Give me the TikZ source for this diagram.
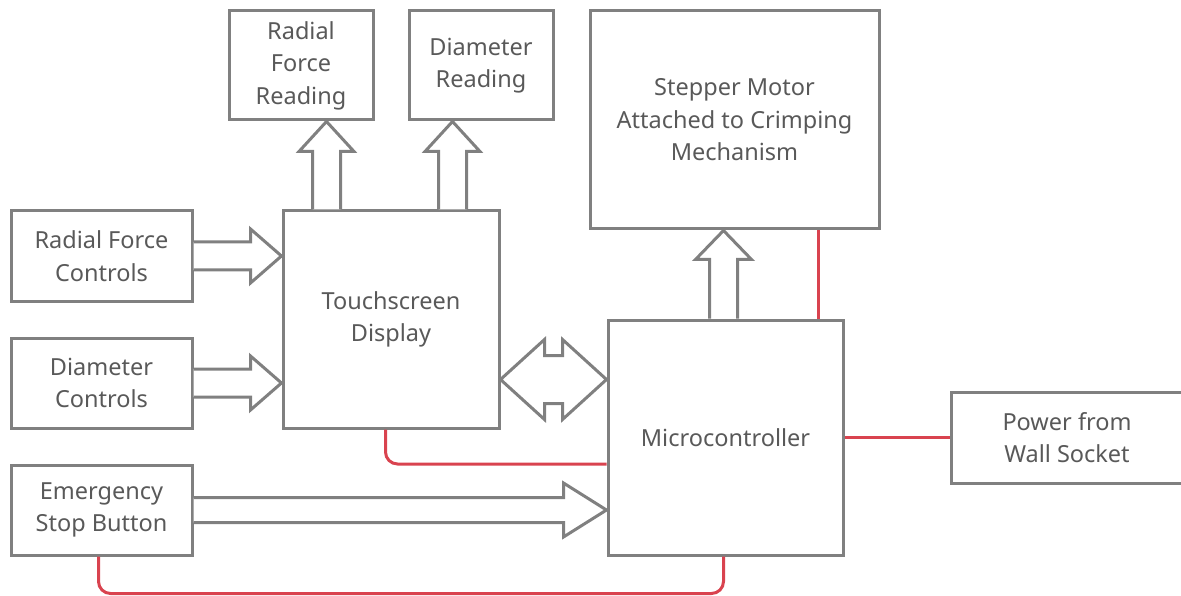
\documentclass[tikz,border=0pt]{standalone}
\usepackage{fontspec}
\setmainfont{Noto Sans}
\usetikzlibrary{calc}
\definecolor{edge}{HTML}{808080}
\definecolor{ink}{HTML}{595959}
\definecolor{wire}{HTML}{D9434F}
\tikzset{
  blk/.style={draw=edge, line width=3pt, fill=white, align=center, text=ink,
    font=\fontsize{23.5}{32.5}\selectfont, inner sep=0pt},
  fat/.style={draw=edge, line width=3pt, fill=white, line join=miter},
  power/.style={draw=wire, line width=3pt, rounded corners=12pt}
}
% block arrow from #1 to #2: half shaft #3, half head #4, head length #5
\newcommand{\fatarrow}[5]{%
  \draw[fat] let \p1=($(#2)-(#1)$), \n1={atan2(\y1,\x1)}, \n2={veclen(\x1,\y1)} in
    [shift={(#1)}, rotate=\n1]
    (0,-#3) -- ({\n2-#5},-#3) -- ({\n2-#5},-#4) -- (\n2,0) -- ({\n2-#5},#4)
    -- ({\n2-#5},#3) -- (0,#3);}
% double-headed block arrow between #1 and #2
\newcommand{\fatboth}[5]{%
  \draw[fat] let \p1=($(#2)-(#1)$), \n1={atan2(\y1,\x1)}, \n2={veclen(\x1,\y1)} in
    [shift={(#1)}, rotate=\n1]
    (0,0) -- (#5,-#4) -- (#5,-#3) -- ({\n2-#5},-#3) -- ({\n2-#5},-#4) -- (\n2,0)
    -- ({\n2-#5},#4) -- ({\n2-#5},#3) -- (#5,#3) -- (#5,#4) -- cycle;}
\begin{document}
\begin{tikzpicture}[x=1pt, y=-1pt]
\useasboundingbox (0,0) rectangle (1181,596);

% blocks (centre, size)
\node[blk, minimum width=144pt, minimum height=109pt] (rfr) at (301,65.5) {Radial\\Force\\Reading};
\node[blk, minimum width=144pt, minimum height=109pt] (dr) at (481,65.5) {Diameter\\Reading};
\node[blk, minimum width=289pt, minimum height=218pt] (sm) at (734.5,120) {Stepper Motor\\Attached to Crimping\\Mechanism};
\node[blk, minimum width=181pt, minimum height=90pt] (rfc) at (101.5,256) {Radial Force\\Controls};
\node[blk, minimum width=216pt, minimum height=217pt] (ts) at (391,319.5) {Touchscreen\\Display};
\node[blk, minimum width=181pt, minimum height=90pt] (dc) at (101.5,383) {Diameter\\Controls};
\node[blk, minimum width=235pt, minimum height=235pt] (mc) at (725.5,437.5) {Microcontroller};
\node[blk, minimum width=232pt, minimum height=91pt] (pw) at (1067,437.5) {Power from\\Wall Socket};
\node[blk, minimum width=181pt, minimum height=90pt] (es) at (101.5,510) {Emergency\\Stop Button};

% anchor points for the block arrows
\coordinate (tsA) at ($(ts.north west)+(45,0)$);
\coordinate (tsB) at ($(ts.north west)+(171,0)$);
\coordinate (mcA) at ($(mc.north west)+(117,0)$);
\coordinate (tsC) at ($(ts.south east)+(0,-50)$);

% block arrows
\fatarrow{rfc.east}{rfc.east -| ts.west}{14}{27}{31}
\fatarrow{dc.east}{dc.east -| ts.west}{14}{27}{31}
\fatarrow{es.east}{es.east -| mc.west}{12.5}{27}{43}
\fatarrow{tsA}{tsA |- rfr.south}{14}{27.5}{30}
\fatarrow{tsB}{tsB |- dr.south}{14}{27.5}{30}
\fatarrow{mcA}{mcA |- sm.south}{14}{28}{29}
\fatboth{tsC}{tsC -| mc.west}{24}{40}{44}

% power wiring
\coordinate (tsP) at ($(ts.south west)+(104,0)$);
\coordinate (esP) at ($(es.south west)+(89,0)$);
\coordinate (mcP) at ($(mc.south west)+(117,0)$);
\coordinate (smP) at ($(sm.south west)+(230,0)$);
\draw[power] (tsP) |- (mc.west |- 0,464);
\draw[power] (esP) -- ++(0,37) -| (mcP);
\draw[power, rounded corners=0pt] (smP) -- (smP |- mc.north);
\draw[power, rounded corners=0pt] (mc.east) -- (pw.west);
\end{tikzpicture}
\end{document}
